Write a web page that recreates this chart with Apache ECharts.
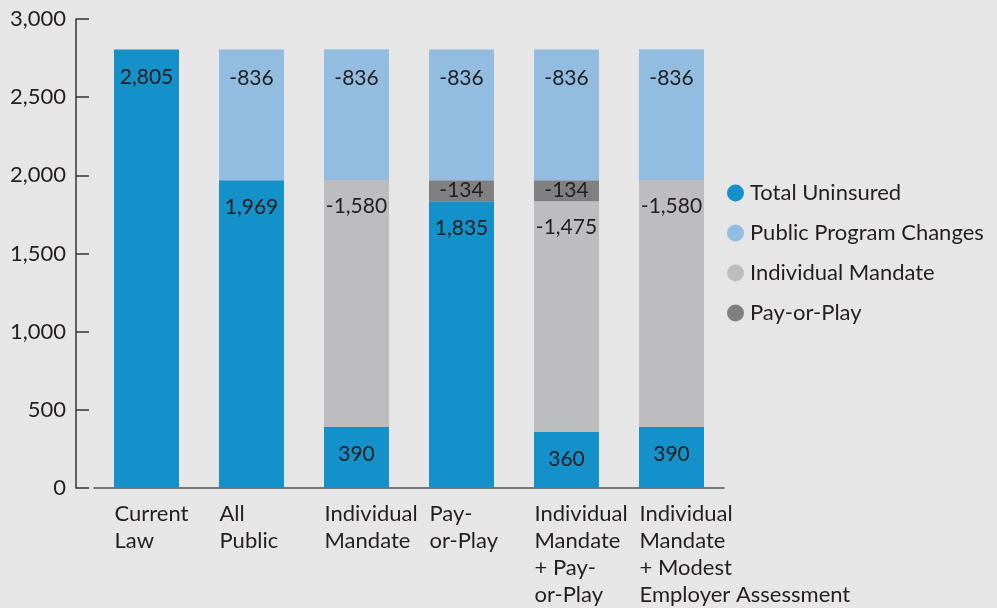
<!DOCTYPE html>
<html>
<head>
<meta charset="utf-8">
<script src="https://cdn.jsdelivr.net/npm/echarts@6/dist/echarts.min.js"></script>
<style>
  html, body { margin: 0; padding: 0; background: #e6e6e6; }
  #chart { width: 997px; height: 608px; }
</style>
</head>
<body>
<div id="chart"></div>
<script>
const categories = [
  'Current\nLaw',
  'All\nPublic',
  'Individual\nMandate',
  'Pay-\nor-Play',
  'Individual\nMandate\n+ Pay-\nor-Play',
  'Individual\nMandate\n+ Modest\nEmployer Assessment'
]
const totalUninsured = [2805, 1969, 390, 1835, 360, 390]
const individualMandate = [null, null, 1580, null, 1475, 1580]
const payOrPlay = [null, null, null, 134, 134, null]
const publicProgram = [null, 836, 836, 836, 836, 836]
const yTicks = [0, 500, 1000, 1500, 2000, 2500, 3000]

const FONT = 'Lato'
const INK = '#231f20'
const fmt = v => v.toLocaleString('en-US')

const chart = echarts.init(document.getElementById('chart'))

const labelStyle = (pos, dist, neg) => ({
  show: true,
  position: pos,
  distance: dist,
  color: INK,
  fontFamily: FONT,
  fontSize: 21,
  formatter: p => (neg ? '-' : '') + fmt(p.value)
})

chart.setOption({
  backgroundColor: '#e6e6e6',
  animation: false,
  textStyle: { fontFamily: FONT },
  grid: { left: 94, right: 273, top: 19, bottom: 115 },
  legend: {
    orient: 'vertical',
    left: 722,
    top: 177,
    icon: 'circle',
    itemWidth: 17,
    itemHeight: 17,
    itemGap: 18,
    textStyle: { color: INK, fontFamily: FONT, fontSize: 22, padding: [0, 0, 0, 1] },
    data: ['Total Uninsured', 'Public Program Changes', 'Individual Mandate', 'Pay-or-Play']
  },
  xAxis: {
    type: 'category',
    data: categories,
    axisLine: { lineStyle: { color: '#555', width: 1.5 } },
    axisTick: { show: false },
    axisLabel: {
      color: INK,
      fontFamily: FONT,
      fontSize: 22,
      lineHeight: 27,
      align: 'left',
      margin: 12,
      padding: [0, 0, 0, -32],
      interval: 0
    }
  },
  yAxis: {
    type: 'value',
    min: yTicks[0],
    max: yTicks[yTicks.length - 1],
    interval: 500,
    offset: 18,
    splitLine: { show: false },
    axisLine: { show: true, lineStyle: { color: '#333', width: 1.5 } },
    axisTick: { show: true, inside: true, length: 13, lineStyle: { color: '#333', width: 1.5 } },
    axisLabel: {
      color: INK,
      fontFamily: FONT,
      fontSize: 22,
      margin: 10,
      formatter: v => fmt(v)
    }
  },
  series: [
    {
      name: 'Total Uninsured',
      type: 'bar',
      stack: 'all',
      barWidth: 65,
      data: totalUninsured,
      itemStyle: { color: '#1591c9' },
      label: labelStyle('insideTop', 17, false)
    },
    {
      name: 'Individual Mandate',
      type: 'bar',
      stack: 'all',
      data: individualMandate,
      itemStyle: { color: '#bdbdc0' },
      label: labelStyle('insideTop', 16, true)
    },
    {
      name: 'Pay-or-Play',
      type: 'bar',
      stack: 'all',
      data: payOrPlay,
      itemStyle: { color: '#808083' },
      label: labelStyle('inside', 0, true)
    },
    {
      name: 'Public Program Changes',
      type: 'bar',
      stack: 'all',
      data: publicProgram,
      itemStyle: { color: '#92bce0' },
      label: labelStyle('insideTop', 18, true)
    }
  ]
})
</script>
</body>
</html>
